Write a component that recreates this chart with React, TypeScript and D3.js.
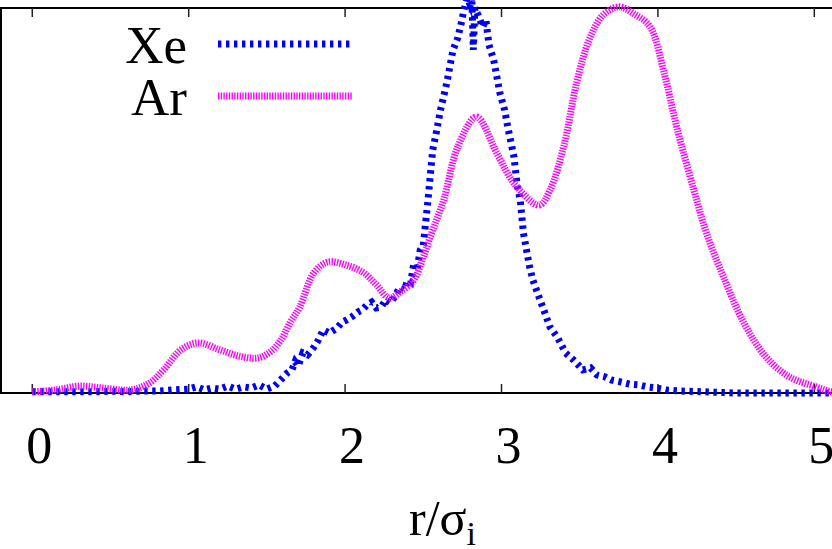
import * as d3 from "d3";

// radial distribution around the ion (normalised so Ar peak ~ 1)
const arR = [0, 0.15, 0.3, 0.45, 0.63, 0.75, 0.84, 0.95, 1.06, 1.2, 1.32, 1.44, 1.52, 1.59, 1.65, 1.71, 1.8, 1.89, 2.01, 2.12, 2.2, 2.28, 2.35, 2.44, 2.5, 2.56, 2.63, 2.72, 2.84, 2.97, 3.08, 3.24, 3.31, 3.4, 3.48, 3.56, 3.65, 3.75, 3.85, 3.95, 4.04, 4.12, 4.23, 4.31, 4.42, 4.55, 4.69, 4.84, 5.01, 5.11, 5.2];
const arG = [0.003, 0.008, 0.018, 0.013, 0.008, 0.026, 0.06, 0.112, 0.13, 0.112, 0.096, 0.091, 0.106, 0.138, 0.184, 0.223, 0.312, 0.34, 0.332, 0.312, 0.281, 0.247, 0.262, 0.294, 0.353, 0.423, 0.501, 0.639, 0.717, 0.623, 0.545, 0.488, 0.527, 0.644, 0.805, 0.917, 0.982, 1.003, 0.984, 0.951, 0.831, 0.691, 0.527, 0.416, 0.301, 0.182, 0.094, 0.042, 0.016, 0.003, 0.0];

const xeR = [0, 0.1, 0.2, 0.3, 0.4, 0.5, 0.6, 0.7, 0.8, 0.9, 1.0, 1.05, 1.1, 1.15, 1.2, 1.25, 1.3, 1.35, 1.4, 1.45, 1.5, 1.55, 1.6, 1.63, 1.66, 1.68, 1.7, 1.73, 1.76, 1.8, 1.83, 1.86, 1.9, 1.95, 1.98, 2.01, 2.05, 2.08, 2.11, 2.14, 2.17, 2.2, 2.23, 2.26, 2.29, 2.32, 2.35, 2.38, 2.4, 2.42, 2.44, 2.46, 2.48, 2.5, 2.53, 2.56, 2.58, 2.61, 2.65, 2.69, 2.72, 2.74, 2.76, 2.78, 2.8, 2.81, 2.82, 2.83, 2.85, 2.88, 2.9, 2.92, 2.95, 2.99, 3.02, 3.04, 3.08, 3.1, 3.12, 3.14, 3.16, 3.18, 3.2, 3.24, 3.27, 3.31, 3.36, 3.41, 3.46, 3.52, 3.57, 3.61, 3.66, 3.7, 3.76, 3.82, 3.88, 3.93, 3.99, 4.05, 4.15, 4.3, 4.5, 4.7, 5.0, 5.2];
const xeG = [0.003, 0.003, 0.003, 0.003, 0.003, 0.005, 0.003, 0.005, 0.005, 0.008, 0.01, 0.016, 0.008, 0.013, 0.01, 0.018, 0.01, 0.016, 0.013, 0.021, 0.01, 0.018, 0.039, 0.052, 0.06, 0.081, 0.07, 0.104, 0.099, 0.119, 0.138, 0.164, 0.156, 0.169, 0.184, 0.19, 0.2, 0.21, 0.216, 0.229, 0.236, 0.221, 0.223, 0.242, 0.234, 0.252, 0.275, 0.268, 0.294, 0.288, 0.338, 0.319, 0.371, 0.384, 0.501, 0.631, 0.67, 0.735, 0.805, 0.891, 0.922, 0.956, 0.995, 1.026, 1.008, 1.029, 0.891, 1.0, 0.982, 0.951, 0.969, 0.904, 0.865, 0.779, 0.735, 0.691, 0.613, 0.54, 0.501, 0.416, 0.371, 0.327, 0.294, 0.249, 0.216, 0.171, 0.143, 0.104, 0.086, 0.06, 0.065, 0.047, 0.042, 0.034, 0.029, 0.023, 0.021, 0.016, 0.013, 0.008, 0.005, 0.003, 0, 0, 0, 0];

const xTicks = [0, 1, 2, 3, 4, 5];
const seriesNames = ["Xe", "Ar"];

const serif = '"Liberation Serif"';

export default function App() {
  const width = 832;
  const height = 549;
  const frameLeft = 1;
  const frameTop = 8;
  const frameBottom = 393;

  const x = d3.scaleLinear().domain([-0.2, 5.2]).range([frameLeft, 845.6]);
  const y = d3.scaleLinear().domain([0, 1]).range([frameBottom, frameTop]);

  const xeLine = d3
    .line<number>()
    .x((d, i) => x(xeR[i]))
    .y((d) => y(d))
    .curve(d3.curveLinear);

  const arLine = d3
    .line<number>()
    .x((d, i) => x(arR[i]))
    .y((d) => y(d))
    .curve(d3.curveCatmullRom.alpha(0.5));

  const styles = [
    { stroke: "#0000ff", dash: "3.4 4.6" },
    { stroke: "#ff00ff", dash: "1.4 1.3" },
  ];

  return (
    <svg width={width} height={height} style={{ position: "absolute", left: 0, top: 0, background: "#fff" }}>
      {/* frame */}
      <rect
        x={frameLeft}
        y={frameTop}
        width={845 - frameLeft}
        height={frameBottom - frameTop}
        fill="none"
        stroke="#000"
        strokeWidth={2}
      />
      {xTicks.map((t) => (
        <g key={t}>
          <line x1={x(t)} x2={x(t)} y1={frameTop} y2={frameTop + 9} stroke="#222" strokeWidth={1.5} />
          <line x1={x(t)} x2={x(t)} y1={frameBottom} y2={frameBottom - 9} stroke="#222" strokeWidth={1.5} />
        </g>
      ))}
      {xTicks.map((t) => (
        <text key={"l" + t} x={x(t) + 7} y={463} fontSize={52} textAnchor="middle" fill="#000" style={{ fontFamily: serif }}>
          {t}
        </text>
      ))}

      {/* curves */}
      <path
        d={xeLine(xeG) || ""}
        fill="none"
        stroke={styles[0].stroke}
        strokeWidth={7}
        strokeDasharray={styles[0].dash}
      />
      <path
        d={arLine(arG) || ""}
        fill="none"
        stroke={styles[1].stroke}
        strokeWidth={7}
        strokeDasharray={styles[1].dash}
      />

      {/* legend */}
      {seriesNames.map((name, i) => (
        <text key={"t" + name} x={187} y={63 + i * 52} fontSize={53} textAnchor="end" fill="#000" style={{ fontFamily: serif }}>
          {name}
        </text>
      ))}
      {seriesNames.map((name, i) => (
        <line
          key={"s" + name}
          x1={218}
          x2={353}
          y1={44 + i * 52}
          y2={44 + i * 52}
          stroke={styles[i].stroke}
          strokeWidth={7}
          strokeDasharray={styles[i].dash}
        />
      ))}

      {/* axis title */}
      <text x={409} y={535} fontSize={50} fill="#000" style={{ fontFamily: serif }}>
        r/σ
        <tspan fontSize={34} dy={10}>
          i
        </tspan>
      </text>
    </svg>
  );
}
